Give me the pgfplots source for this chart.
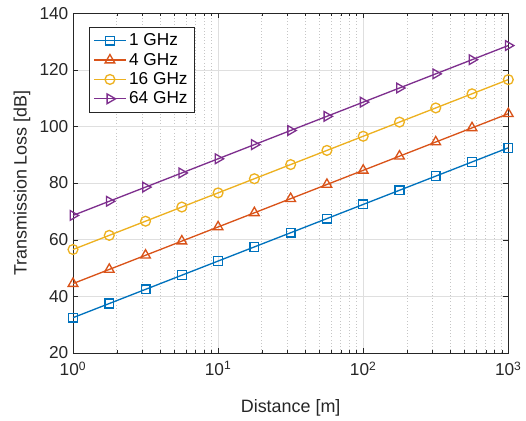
\documentclass[border=0pt]{standalone}
\usepackage{fontspec}
\setmainfont{Liberation Sans}
\usepackage{pgfplots}
\pgfplotsset{compat=1.18}
\definecolor{c1}{rgb}{0,0.447,0.741}
\definecolor{c2}{rgb}{0.85,0.325,0.098}
\definecolor{c3}{rgb}{0.929,0.694,0.125}
\definecolor{c4}{rgb}{0.494,0.184,0.556}
\definecolor{axc}{rgb}{0.15,0.15,0.15}
\begin{document}
\begin{tikzpicture}
\begin{axis}[
  xmode=log, xmin=1, xmax=1000, ymin=20, ymax=140,
  width=328pt, height=256pt, scale only axis,
  xtick={1,10,100,1000},
  xticklabels={10\textsuperscript{0},10\textsuperscript{1},10\textsuperscript{2},10\textsuperscript{3}},
  ytick={20,40,60,80,100,120,140},
  /pgf/number format/assume math mode=true,
  tick label style={font=\fontsize{13}{15}\selectfont, text=axc},
  label style={font=\fontsize{13.5}{16}\selectfont, text=axc},
  xlabel={Distance [m]}, ylabel={Transmission Loss [dB]},
  xlabel style={yshift=-11pt},
  xticklabel style={yshift=-3pt},
  axis line style={axc, line width=0.5pt},
  tick style={axc},
  tick align=inside,
  major tick length=4pt, minor tick length=2pt,
  xmajorgrids, ymajorgrids, xminorgrids,
  major grid style={gray!25, line width=0.4pt},
  minor grid style={gray!45, dotted, line width=0.5pt},
  legend style={at={(0.037,0.96)}, anchor=north west, draw=axc, font=\fontsize{13}{15}\selectfont, inner sep=3pt, row sep=0pt, line width=0.5pt},
  legend cell align=left,
  legend image code/.code={\draw[mark repeat=2,mark phase=2] plot coordinates {(0cm,0cm)(0.42cm,0cm)(0.84cm,0cm)};},
  every axis plot/.append style={line width=1pt, mark size=3.3pt, mark options={solid, fill=none}},
]
\addplot[c1, mark=square] coordinates {(1,32.45)(1.7783,37.45)(3.1623,42.45)(5.6234,47.45)(10,52.45)(17.783,57.45)(31.623,62.45)(56.234,67.45)(100,72.45)(177.83,77.45)(316.23,82.45)(562.34,87.45)(1000,92.45)};
\addlegendentry{1 GHz}
\addplot[c2, mark=triangle, mark size=4.2pt] coordinates {(1,44.49)(1.7783,49.49)(3.1623,54.49)(5.6234,59.49)(10,64.49)(17.783,69.49)(31.623,74.49)(56.234,79.49)(100,84.49)(177.83,89.49)(316.23,94.49)(562.34,99.49)(1000,104.49)};
\addlegendentry{4 GHz}
\addplot[c3, mark=o, mark size=3.7pt] coordinates {(1,56.53)(1.7783,61.53)(3.1623,66.53)(5.6234,71.53)(10,76.53)(17.783,81.53)(31.623,86.53)(56.234,91.53)(100,96.53)(177.83,101.53)(316.23,106.53)(562.34,111.53)(1000,116.53)};
\addlegendentry{16 GHz}
\addplot[c4, mark=triangle, mark size=4.2pt, mark options={rotate=-90}] coordinates {(1,68.57)(1.7783,73.57)(3.1623,78.57)(5.6234,83.57)(10,88.57)(17.783,93.57)(31.623,98.57)(56.234,103.57)(100,108.57)(177.83,113.57)(316.23,118.57)(562.34,123.57)(1000,128.57)};
\addlegendentry{64 GHz}
\end{axis}
\path ([xshift=-7pt]current bounding box.west);
\path ([yshift=2pt]current bounding box.north);
\end{tikzpicture}
\end{document}
